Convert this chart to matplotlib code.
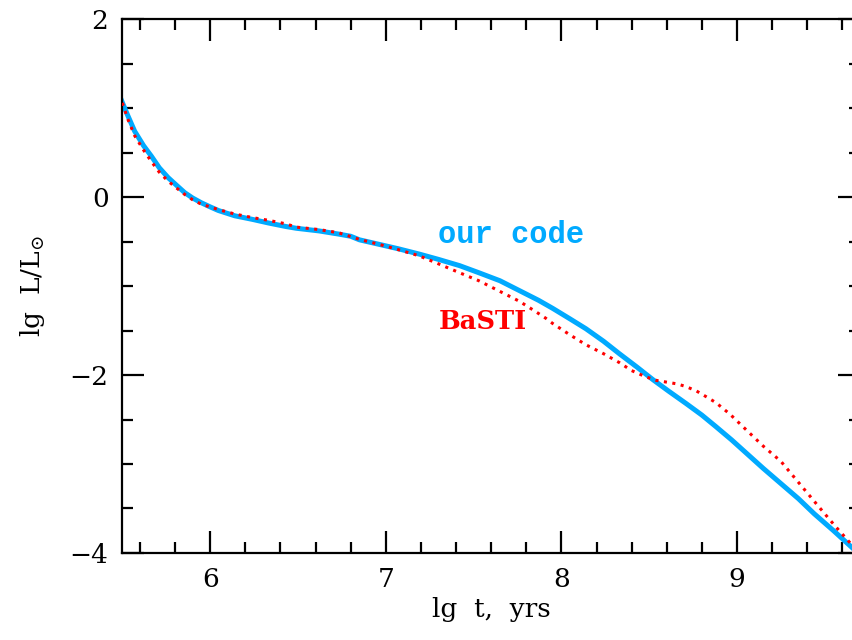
import matplotlib
matplotlib.use("Agg")
import matplotlib.pyplot as plt
from matplotlib.ticker import MultipleLocator

# lg t [yrs] and lg L/Lsun
our_t = [5.49, 5.53, 5.57, 5.62, 5.665, 5.71, 5.76, 5.81, 5.855, 5.90, 5.95, 6.0, 6.046,
         6.14, 6.24, 6.33, 6.43, 6.49, 6.62, 6.73, 6.80, 6.85, 6.96, 7.07, 7.19, 7.30,
         7.42, 7.53, 7.65, 7.76, 7.87, 7.95, 8.05, 8.14, 8.24, 8.33, 8.43, 8.52, 8.61,
         8.71, 8.80, 8.88, 8.97, 9.06, 9.15, 9.25, 9.35, 9.44, 9.55, 9.65, 9.70]
our_L = [1.11, 0.92, 0.74, 0.58, 0.46, 0.33, 0.22, 0.13, 0.05, -0.01, -0.064, -0.11, -0.15,
         -0.21, -0.25, -0.29, -0.33, -0.35, -0.38, -0.415, -0.44, -0.48, -0.53, -0.58,
         -0.64, -0.70, -0.77, -0.85, -0.94, -1.05, -1.16, -1.25, -1.37, -1.48, -1.62,
         -1.76, -1.91, -2.05, -2.18, -2.32, -2.45, -2.58, -2.73, -2.89, -3.05, -3.22,
         -3.39, -3.56, -3.75, -3.93, -4.02]

basti_t = [5.50, 5.53, 5.57, 5.62, 5.665, 5.71, 5.76, 5.81, 5.855, 5.90, 5.95, 6.0, 6.046,
           6.14, 6.24, 6.33, 6.43, 6.49, 6.62, 6.73, 6.85, 6.96, 7.07, 7.19, 7.30, 7.42,
           7.53, 7.65, 7.76, 7.84, 7.91, 7.95, 8.05, 8.14, 8.24, 8.33, 8.40, 8.48, 8.54,
           8.60, 8.66, 8.71, 8.77, 8.83, 8.88, 8.96, 9.06, 9.15, 9.25, 9.36, 9.47, 9.56,
           9.65, 9.70]
basti_L = [1.06, 0.88, 0.69, 0.53, 0.40, 0.28, 0.18, 0.10, 0.03, -0.03, -0.08, -0.11, -0.14,
           -0.19, -0.23, -0.26, -0.30, -0.337, -0.365, -0.40, -0.475, -0.53, -0.59, -0.66,
           -0.75, -0.85, -0.94, -1.06, -1.17, -1.27, -1.36, -1.42, -1.55, -1.66, -1.76,
           -1.86, -1.95, -2.02, -2.06, -2.08, -2.10, -2.13, -2.18, -2.25, -2.31, -2.44,
           -2.63, -2.80, -2.97, -3.23, -3.49, -3.70, -3.90, -4.0]

plt.rcParams['font.family'] = ['DejaVu Serif']
plt.rcParams['mathtext.fontset'] = 'dejavuserif'

fig = plt.figure(figsize=(8.53, 6.4), dpi=100)
ax = fig.add_axes([0.1435, 0.136, 0.8646, 0.834])

ax.plot(our_t, our_L, color='#00aaff', lw=3.6, solid_joinstyle='round', zorder=2)
ax.plot(basti_t, basti_L, color='red', lw=2.2, ls=(0, (1, 1.8)), zorder=3)

ax.text(7.30, -0.43, 'our code', color='#00aaff', fontsize=22, fontweight='bold',
        family='Liberation Mono', va='center', ha='left')
ax.text(7.30, -1.40, 'BaSTI', color='red', fontsize=18.5, fontweight='bold',
        va='center', ha='left')

ax.set_xlim(5.5, 9.7)
ax.set_ylim(-4, 2)
ax.xaxis.set_major_locator(MultipleLocator(1))
ax.xaxis.set_minor_locator(MultipleLocator(0.2))
ax.yaxis.set_major_locator(MultipleLocator(2))
ax.yaxis.set_minor_locator(MultipleLocator(0.5))
ax.tick_params(which='both', direction='in', top=True, right=True, width=1.6,
               labelsize=19, pad=10)
ax.tick_params(which='major', length=16)
ax.tick_params(which='minor', length=8)
for s in ax.spines.values():
    s.set_linewidth(1.6)
# right frame edge falls just outside the picture
ax.spines['right'].set_visible(False)

ax.set_xlabel('lg  t,  yrs', fontsize=19, labelpad=4)
ax.set_ylabel(r'lg  L/L$_{\odot}$', fontsize=19, labelpad=16)

fig.savefig('out.png', dpi=100)
